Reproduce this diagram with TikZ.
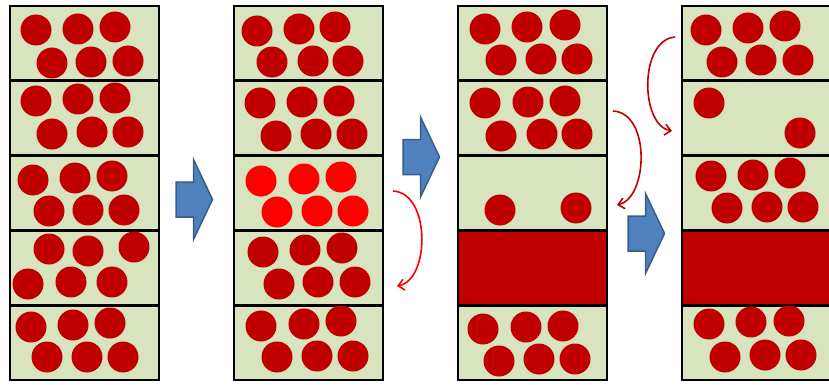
\documentclass[tikz,border=0pt]{standalone}
\usepackage{xcolor,tikz}
\usetikzlibrary{arrows.meta}
\definecolor{cellfill}{HTML}{D7E4BD}
\definecolor{ballred}{HTML}{C00000}
\definecolor{hotred}{HTML}{FF0000}
\definecolor{blkfill}{HTML}{4F81BD}
\definecolor{blkedge}{HTML}{385D8A}

\begin{document}
\begin{tikzpicture}[x=1pt,y=-1pt,
  cell/.style={draw=black,line width=2.6pt,fill=cellfill,minimum width=149pt,minimum height=74.8pt,inner sep=0pt},
  ball/.style={fill=ballred},
  hot/.style={fill=hotred},
  blk/.style={fill=blkfill,draw=blkedge,line width=1.5pt,line join=miter},
  move/.style={line width=1.6pt,-{Straight Barb[length=6pt,width=11pt]}}]
  \useasboundingbox (0,0) rectangle (829,385);
  % four stacks of five cells, row 4 full in stacks 3 and 4
  \foreach \c/\x/\full in {1/10/0,2/234/0,3/458/4,4/682/4}
    \foreach \r in {1,...,5}{
      \ifnum\r=\full \def\fc{ballred}\else\def\fc{cellfill}\fi
      \node[cell,fill=\fc] (c\c-\r) at (\x+74.5,6+74.8*\r-37.4) {};
    }
  % stack 1
  \foreach \x/\y in {36/30,78/29,115/27,52/63,91/62,128/61,
    36/101,78/99,115/98,52/134,92/132,128/132,
    33/180,75/178,112/176,49/211,88/210,124/210,
    49/249,88/251,134/247,28/284,71/282,112/282,
    31/327,73/325,110/323,47/357,87/357,123/357}
    \fill[ball] (\x,\y) circle (15.5);
  % stack 2
  \foreach \x/\y in {257/31,299/29,335/27,272/62,313/61,348/61,
    260/103,302/102,339/101,276/136,316/134,352/134,
    263/252,305/250,342/248,279/284,318/282,355/282,
    261/326,304/324,341/321,277/357,317/356,353/356}
    \fill[ball] (\x,\y) circle (15.5);
  \foreach \x/\y in {261/181,304/179,341/177,277/212,317/211,353/211}
    \fill[hot] (\x,\y) circle (15.5);
  % stack 3
  \foreach \x/\y in {485/29,527/27,565/25,501/60,541/59,577/59,
    485/103,528/102,565/101,501/136,542/134,577/134,
    500/210,576/208,
    483/329,526/327,563/326,499/361,539/359,575/359}
    \fill[ball] (\x,\y) circle (15.5);
  % stack 4
  \foreach \x/\y in {706/30,748/28,785/26,722/62,761/60,798/60,
    709/103,800/133,
    711/176,753/175,790/173,727/208,767/207,803/207,
    709/324,751/322,789/321,725/357,765/355,801/355}
    \fill[ball] (\x,\y) circle (15.5);
  % block arrows between stacks
  \draw[blk] (176,182) -- ++(17.5,0) -- ++(0,-22.5) -- ++(19,40) -- ++(-19,40) -- ++(0,-22.5) -- ++(-17.5,0) -- cycle;
  \draw[blk] (403,139.5) -- ++(17.5,0) -- ++(0,-22.5) -- ++(19,40) -- ++(-19,40) -- ++(0,-22.5) -- ++(-17.5,0) -- cycle;
  \draw[blk] (628,216) -- ++(17.5,0) -- ++(0,-22.5) -- ++(19,40) -- ++(-19,40) -- ++(0,-22.5) -- ++(-17.5,0) -- cycle;
  % curved moves
  \coordinate (m1s) at (393,191);
  \coordinate (m1e) at (397,286);
  \coordinate (m2s) at (613,111);
  \coordinate (m2e) at (617,205);
  \coordinate (m3s) at (675,37);
  \coordinate (m3e) at (672,131);
  \draw[move,hotred] (m1s) .. controls (431,193) and (430,280) .. (m1e);
  \draw[move,ballred] (m2s) .. controls (651,113) and (648,198) .. (m2e);
  \draw[move,ballred] (m3s) .. controls (639,40) and (640,125) .. (m3e);
\end{tikzpicture}
\end{document}
